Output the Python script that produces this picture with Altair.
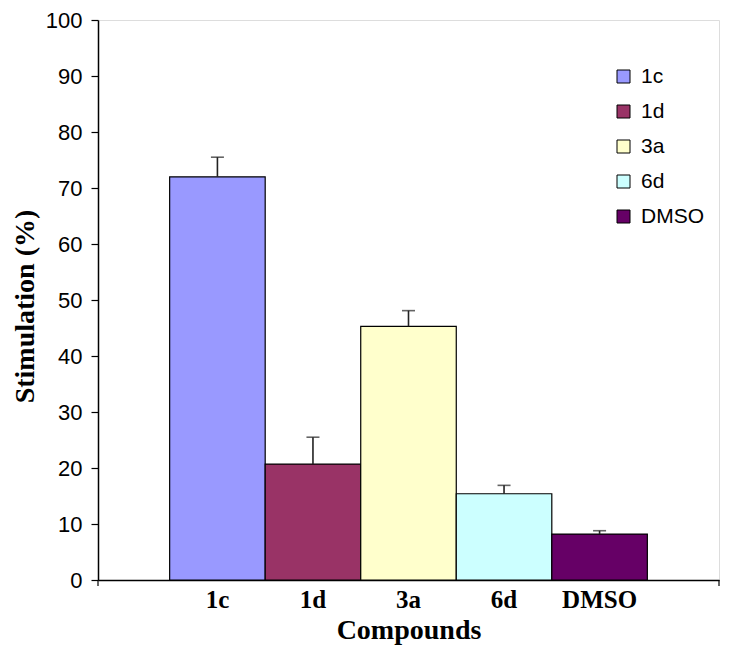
import altair as alt
import pandas as pd

compounds = ["1c", "1d", "3a", "6d", "DMSO"]
stimulation = [72.0, 20.7, 45.3, 15.4, 8.2]
errors = [3.5, 4.8, 2.8, 1.5, 0.6]
colors = ["#9999FF", "#993366", "#FFFFCC", "#CCFFFF", "#660066"]
y_ticks = list(range(0, 101, 10))

df = pd.DataFrame({"compound": compounds, "value": stimulation, "err": errors})
df["top"] = df["value"] + df["err"]

W, H = 621, 560

x_enc = alt.X(
    "compound:N",
    sort=compounds,
    scale=alt.Scale(paddingInner=0, paddingOuter=0.75),
    axis=alt.Axis(
        title="Compounds",
        labelAngle=0,
        labelFont="Liberation Serif",
        labelFontWeight="bold",
        labelFontSize=25,
        labelColor="black",
        labelPadding=7,
        ticks=False,
        domainColor="black",
        domainWidth=1.5,
        titleFont="Liberation Serif",
        titleFontWeight="bold",
        titleFontSize=28,
        titleColor="black",
        titleBaseline="alphabetic",
        titleY=58,
    ),
)

y_scale = alt.Scale(domain=[0, 100], nice=False)

bars = alt.Chart(df).mark_bar(stroke="black", strokeWidth=1.2).encode(
    x=x_enc,
    y=alt.Y(
        "value:Q",
        scale=y_scale,
        axis=alt.Axis(
            title="Stimulation (%)",
            values=y_ticks,
            grid=False,
            tickSize=7,
            tickColor="black",
            tickWidth=1.2,
            domainColor="black",
            domainWidth=1.5,
            labelFont="Liberation Sans",
            labelFontSize=22,
            labelColor="black",
            labelPadding=9,
            titleFont="Liberation Serif",
            titleFontWeight="bold",
            titleFontSize=28,
            titleColor="black",
            titleBaseline="alphabetic",
            titleAlign="center",
            titleX=-65,
            titleY=286,
        ),
    ),
    color=alt.Color(
        "compound:N",
        sort=compounds,
        scale=alt.Scale(domain=compounds, range=colors),
        legend=alt.Legend(
            title=None,
            orient="none",
            legendX=515,
            legendY=46,
            padding=0,
            symbolType="square",
            symbolSize=169,
            symbolStrokeColor="black",
            symbolStrokeWidth=1,
            symbolOpacity=1,
            labelFont="Liberation Sans",
            labelFontSize=21,
            labelColor="black",
            labelOffset=7,
            rowPadding=13,
        ),
    ),
)

err_rule = alt.Chart(df).mark_rule(color="#222222", strokeWidth=1.6).encode(
    x=alt.X("compound:N", sort=compounds),
    y=alt.Y("value:Q", scale=y_scale),
    y2="top:Q",
)

err_cap = alt.Chart(df).mark_tick(
    color="#222222", thickness=1.6, size=13, orient="horizontal"
).encode(
    x=alt.X("compound:N", sort=compounds),
    y=alt.Y("top:Q", scale=y_scale),
)

end_tick_left = alt.Chart(pd.DataFrame({"px": [0]})).mark_rule(
    color="black", strokeWidth=1.2
).encode(
    x=alt.value(0),
    y=alt.value(H),
    y2=alt.value(H + 6),
)
end_tick_right = alt.Chart(pd.DataFrame({"px": [W]})).mark_rule(
    color="black", strokeWidth=1.2
).encode(
    x=alt.value(W),
    y=alt.value(H),
    y2=alt.value(H + 6),
)

chart = (
    alt.layer(bars, err_rule, err_cap, end_tick_left, end_tick_right)
    .properties(
        width=W,
        height=H,
        autosize=alt.AutoSizeParams(type="none"),
        padding={"left": 90, "top": 12, "right": 2, "bottom": 70},
    )
    .configure_view(stroke=None)
    .configure(background="white")
)

chart.save("out.html", embed_options={"renderer": "svg", "actions": False})
